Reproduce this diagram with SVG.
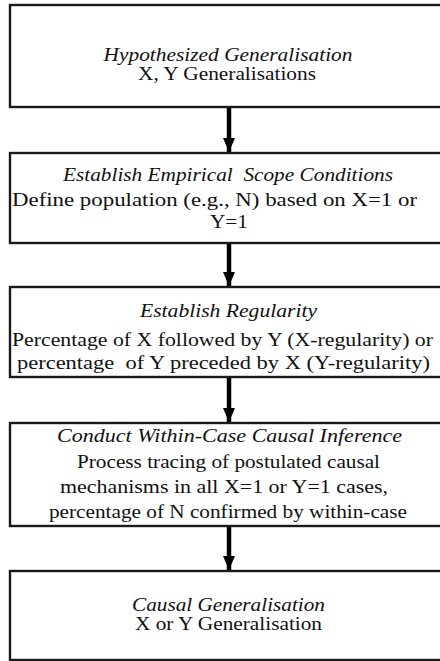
<svg xmlns="http://www.w3.org/2000/svg" width="440" height="661" viewBox="0 0 440 661">
  <defs>
    <style>
      .box { fill: #ffffff; stroke: #1a1a1a; stroke-width: 2.4; }
      .t { font-family: "Liberation Serif", "Times New Roman", serif; font-size: 19px; fill: #111; text-anchor: middle; white-space: pre; }
      .ti { font-style: italic; }
      .shaft { stroke: #000; stroke-width: 4.5; }
    </style>
    <marker id="head" viewBox="0 0 14 12" refX="14" refY="6" markerWidth="14" markerHeight="12" markerUnits="userSpaceOnUse" orient="auto">
      <path d="M0,0 L14,6 L0,12 Z" fill="#000"/>
    </marker>
  </defs>
  <rect width="440" height="661" fill="#ffffff"/>

  <!-- vertical flow arrows between the stages -->
  <g id="connectors">
    <line class="shaft" x1="229" y1="108" x2="229" y2="152" marker-end="url(#head)"/>
    <line class="shaft" x1="229" y1="244" x2="229" y2="286" marker-end="url(#head)"/>
    <line class="shaft" x1="229" y1="378" x2="229" y2="422" marker-end="url(#head)"/>
    <line class="shaft" x1="229" y1="527" x2="229" y2="570" marker-end="url(#head)"/>
  </g>

  <g id="hypothesized">
    <rect class="box" x="10" y="5" width="440" height="102"/>
    <text class="t ti" x="228" y="61" textLength="249" lengthAdjust="spacingAndGlyphs">Hypothesized Generalisation</text>
    <text class="t" x="227" y="80" textLength="178" lengthAdjust="spacingAndGlyphs">X, Y Generalisations</text>
  </g>

  <g id="scope">
    <rect class="box" x="10" y="153" width="440" height="90"/>
    <text class="t ti" x="228" y="181" textLength="330" lengthAdjust="spacingAndGlyphs">Establish Empirical  Scope Conditions</text>
    <text class="t" x="214.5" y="206" textLength="405" lengthAdjust="spacingAndGlyphs">Define population (e.g., N) based on X=1 or</text>
    <text class="t" x="229" y="228" textLength="38" lengthAdjust="spacingAndGlyphs">Y=1</text>
  </g>

  <g id="regularity">
    <rect class="box" x="10" y="287" width="440" height="90"/>
    <text class="t ti" x="228.5" y="317" textLength="177" lengthAdjust="spacingAndGlyphs">Establish Regularity</text>
    <text class="t" x="222.5" y="346" textLength="421" lengthAdjust="spacingAndGlyphs">Percentage of X followed by Y (X-regularity) or</text>
    <text class="t" x="223.5" y="369" textLength="413" lengthAdjust="spacingAndGlyphs">percentage  of Y preceded by X (Y-regularity)</text>
  </g>

  <g id="within-case">
    <rect class="box" x="10" y="423" width="440" height="103"/>
    <text class="t ti" x="229.5" y="442" textLength="345" lengthAdjust="spacingAndGlyphs">Conduct Within-Case Causal Inference</text>
    <text class="t" x="228.5" y="468" textLength="303" lengthAdjust="spacingAndGlyphs">Process tracing of postulated causal</text>
    <text class="t" x="224" y="493" textLength="328" lengthAdjust="spacingAndGlyphs">mechanisms in all X=1 or Y=1 cases,</text>
    <text class="t" x="228" y="518" textLength="358" lengthAdjust="spacingAndGlyphs">percentage of N confirmed by within-case</text>
  </g>

  <g id="causal">
    <rect class="box" x="10" y="571" width="440" height="89"/>
    <text class="t ti" x="228.5" y="611" textLength="193" lengthAdjust="spacingAndGlyphs">Causal Generalisation</text>
    <text class="t" x="228.5" y="630" textLength="187" lengthAdjust="spacingAndGlyphs">X or Y Generalisation</text>
  </g>
</svg>
